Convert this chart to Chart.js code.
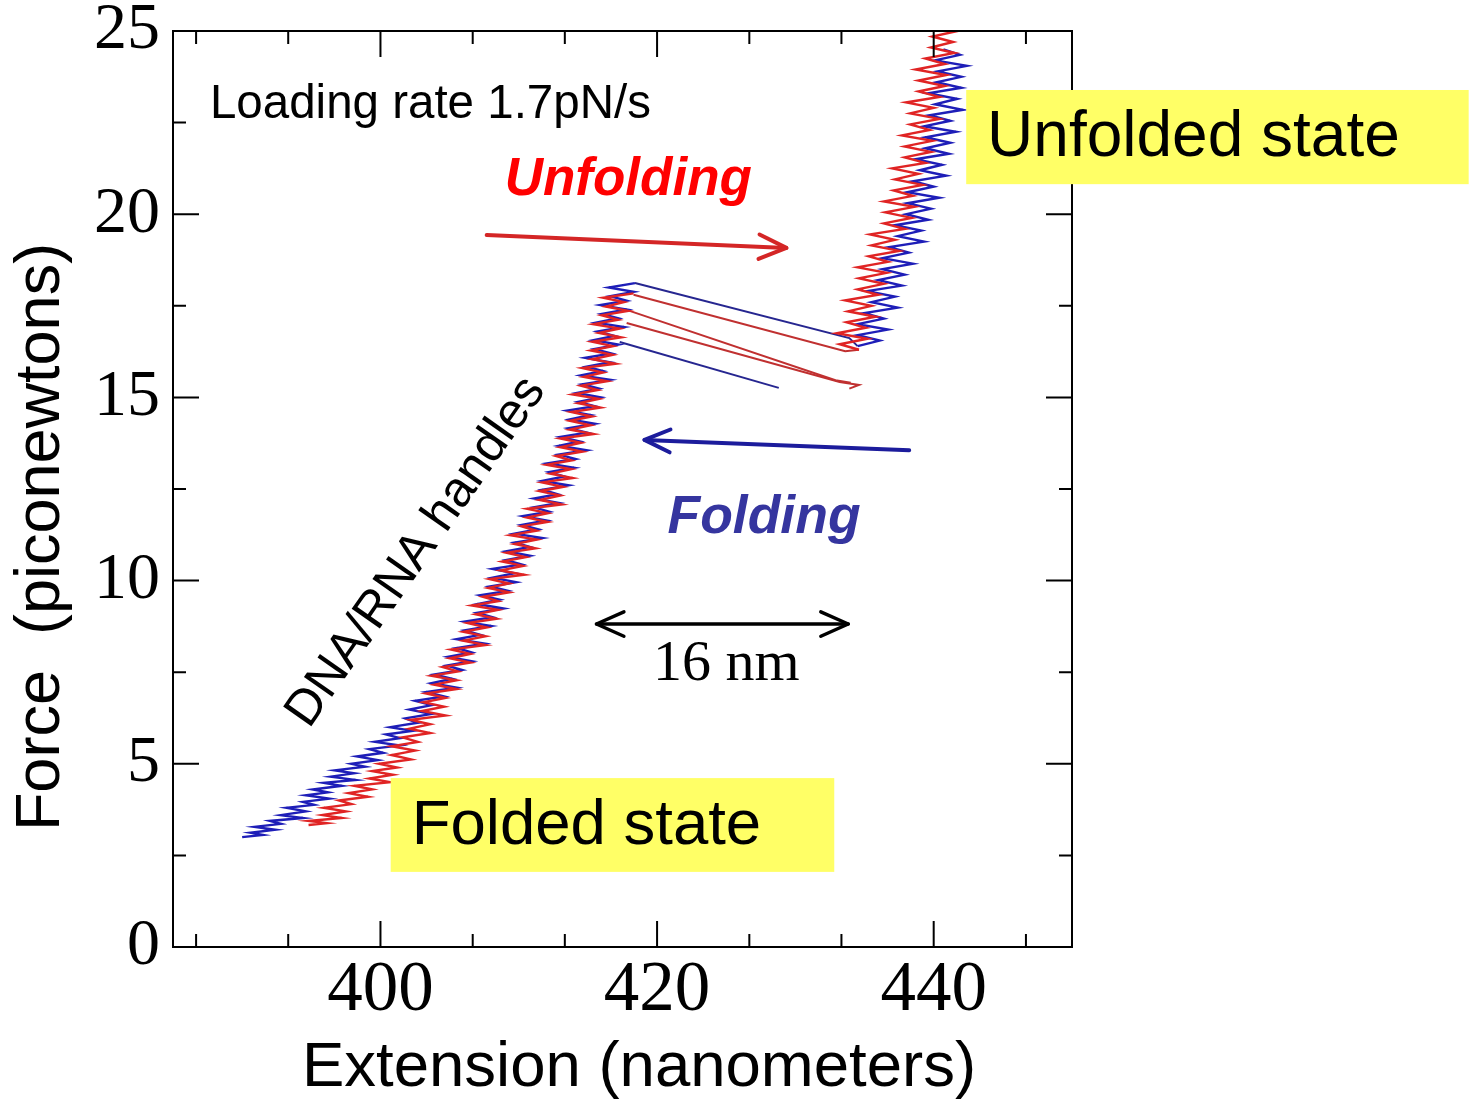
<!DOCTYPE html>
<html>
<head>
<meta charset="utf-8">
<script src="https://cdn.jsdelivr.net/npm/chart.js@4.4.1/dist/chart.umd.min.js"></script>
<style>
  html, body { margin: 0; padding: 0; background: #fff; }
  canvas { display: block; }
</style>
</head>
<body>
<canvas id="chart" width="1470" height="1103"></canvas>
<script>
// axis ticks
const xTicks = [400, 420, 440];
const xMinorTicks = [386.67, 393.33, 406.67, 413.33, 426.67, 433.33, 446.67];
const yTicks = [0, 5, 10, 15, 20, 25];
const yMinorTicks = [2.5, 7.5, 12.5, 17.5, 22.5];

// [extension nm, force pN]
const redHandle = [
  [394.8,3.33],[396.1,3.38],[394.8,3.44],[397.2,3.52],[395.8,3.60],[397.5,3.70],[395.9,3.80],[397.9,3.90],
  [397.0,4.00],[399.1,4.10],[397.7,4.20],[399.4,4.30],[398.1,4.40],[400.7,4.50],[399.2,4.60],[400.9,4.70],
  [399.4,4.80],[401.2,4.90],[399.9,5.00],[402.2,5.12],[400.8,5.24],[402.5,5.36],[400.8,5.48],[402.7,5.60],
  [401.6,5.72],[403.6,5.84],[402.1,5.96],[403.6,6.08],[402.2,6.20],[404.7,6.32],[403.0,6.44],[404.6,6.56],
  [403.1,6.68],[404.7,6.80],[403.3,6.92],[405.5,7.04],[403.9,7.16],[405.5,7.28],[403.7,7.40],[405.6,7.52],
  [404.5,7.64],[406.5,7.76],[405.0,7.88],[406.5,8.00],[405.1,8.12],[407.6,8.24],[406.0,8.36],[407.6,8.48],
  [406.0,8.60],[407.7,8.72],[406.3,8.84],[408.4,8.96],[406.9,9.08],[408.5,9.20],[406.6,9.32],[408.5,9.44],
  [407.4,9.56],[409.3,9.68],[407.8,9.80],[409.3,9.92],[407.9,10.04],[410.4,10.16],[408.7,10.28],[410.3,10.40],
  [408.8,10.52],[410.5,10.64],[409.1,10.76],[411.2,10.88],[409.7,11.00],[411.3,11.12],[409.4,11.24],[411.3,11.36],
  [410.2,11.48],[412.1,11.60],[410.6,11.72],[412.1,11.84],[410.6,11.96],[413.1,12.08],[411.5,12.20],[413.0,12.32],
  [411.5,12.44],[413.2,12.56],[411.7,12.68],[413.9,12.80],[412.3,12.92],[413.8,13.04],[412.0,13.16],[413.8,13.28],
  [412.7,13.40],[414.6,13.52],[413.0,13.64],[414.5,13.76],[413.0,13.88],[415.4,14.00],[413.7,14.12],[415.2,14.24],
  [413.7,14.36],[415.3,14.48],[413.8,14.60],[415.9,14.72],[414.3,14.84],[415.8,14.96],[413.9,15.08],[415.7,15.20],
  [414.5,15.32],[416.4,15.44],[414.7,15.56],[416.1,15.68],[414.6,15.80],[417.0,15.92],[415.3,16.04],[416.8,16.16],
  [415.2,16.28],[416.8,16.40],[415.3,16.52],[417.4,16.64],[415.8,16.76],[417.3,16.88],[415.4,17.00],[417.2,17.12],
  [416.0,17.24],[417.9,17.36],[416.3,17.48],[417.6,17.60],[416.1,17.72],[418.3,17.84]
];

const blueHandle = [
  [390.0,3.00],[391.5,3.06],[390.6,3.12],[392.4,3.20],[390.9,3.28],[392.8,3.36],[392.0,3.44],[394.4,3.52],
  [392.8,3.60],[394.6,3.70],[393.2,3.80],[395.2,3.88],[394.4,3.96],[396.3,4.05],[394.6,4.14],[396.2,4.22],
  [395.1,4.30],[397.2,4.40],[395.9,4.48],[398.2,4.56],[396.4,4.65],[398.1,4.74],[396.7,4.82],[398.9,4.92],
  [397.9,5.00],[399.8,5.10],[398.3,5.20],[400.2,5.30],[399.2,5.40],[401.4,5.50],[399.6,5.60],[401.4,5.70],
  [400.4,5.80],[402.3,5.90],[400.7,6.00],[402.7,6.12],[401.8,6.24],[403.7,6.36],[402.1,6.48],[403.7,6.60],
  [402.5,6.72],[404.6,6.84],[403.3,6.96],[405.5,7.08],[403.7,7.20],[405.2,7.32],[403.9,7.44],[405.9,7.56],
  [404.8,7.68],[406.6,7.80],[404.9,7.92],[406.6,8.04],[405.5,8.16],[407.5,8.28],[405.5,8.40],[407.2,8.52],
  [406.1,8.64],[408.0,8.76],[406.1,8.88],[408.1,9.00],[407.0,9.12],[408.9,9.24],[407.0,9.36],[408.6,9.48],
  [407.2,9.60],[409.2,9.72],[407.9,9.84],[409.8,9.96],[408.1,10.08],[409.7,10.20],[408.1,10.32],[410.2,10.44],
  [409.1,10.56],[410.8,10.68],[409.1,10.80],[410.8,10.92],[409.7,11.04],[411.7,11.16],[409.7,11.28],[411.4,11.40],
  [410.2,11.52],[412.0,11.64],[410.3,11.76],[412.2,11.88],[411.1,12.00],[412.9,12.12],[411.1,12.24],[412.8,12.36],
  [411.7,12.48],[413.6,12.60],[411.7,12.72],[413.3,12.84],[412.2,12.96],[414.0,13.08],[412.1,13.20],[414.1,13.32],
  [412.9,13.44],[414.9,13.56],[412.9,13.68],[414.4,13.80],[413.0,13.92],[414.9,14.04],[413.6,14.16],[415.5,14.28],
  [413.7,14.40],[415.2,14.52],[413.5,14.64],[415.5,14.76],[414.3,14.88],[415.9,15.00],[414.2,15.12],[415.8,15.24],
  [414.6,15.36],[416.6,15.48],[414.5,15.60],[416.1,15.72],[414.9,15.84],[416.6,15.96],[414.8,16.08],[416.7,16.20],
  [415.5,16.32],[417.2,16.44],[415.4,16.56],[416.9,16.68],[415.7,16.80],[417.6,16.92],[415.6,17.04],[417.2,17.16],
  [416.0,17.28],[417.8,17.40],[415.9,17.52],[417.8,17.64],[416.6,17.76],[418.3,17.88],[416.5,18.00],[418.4,18.12]
];

const redUnfolded = [
  [434.6,16.30],[433.2,16.45],[435.2,16.60],[433.0,16.75],[435.1,16.90],[433.7,17.05],[435.8,17.20],[433.8,17.35],
  [435.5,17.50],[433.6,17.65],[436.0,17.80],[434.5,17.95],[436.4,18.10],[434.6,18.25],[436.6,18.40],[434.5,18.55],
  [436.7,18.70],[435.3,18.85],[437.5,19.00],[435.5,19.15],[437.2,19.30],[435.4,19.45],[437.9,19.60],[436.4,19.75],
  [438.4,19.90],[436.5,20.05],[438.6,20.20],[436.4,20.35],[438.5,20.50],[437.1,20.65],[439.2,20.80],[437.2,20.95],
  [438.9,21.10],[437.0,21.25],[439.4,21.40],[437.9,21.55],[439.8,21.70],[437.9,21.85],[439.9,22.00],[437.7,22.15],
  [439.7,22.30],[438.3,22.45],[440.4,22.60],[438.3,22.75],[440.0,22.90],[438.0,23.05],[440.4,23.20],[438.9,23.35],
  [440.8,23.50],[438.9,23.65],[440.9,23.80],[438.7,23.95],[440.8,24.10],[439.4,24.25],[441.5,24.40],[439.8,24.55],
  [441.4,24.70],[439.9,24.85],[441.7,25.00],[440.3,25.15]
];

const blueUnfolded = [
  [434.5,16.40],[436.1,16.55],[434.5,16.70],[436.7,16.85],[434.5,17.00],[436.4,17.15],[435.0,17.30],[437.4,17.45],
  [435.5,17.60],[437.2,17.75],[435.2,17.90],[437.7,18.05],[436.0,18.20],[437.9,18.35],[436.3,18.50],[438.5,18.65],
  [436.3,18.80],[438.2,18.95],[436.8,19.10],[439.3,19.25],[437.4,19.40],[439.1,19.55],[437.2,19.70],[439.6,19.85],
  [438.0,20.00],[439.8,20.15],[438.1,20.30],[440.4,20.45],[438.1,20.60],[440.0,20.75],[438.5,20.90],[440.9,21.05],
  [439.0,21.20],[440.6,21.35],[438.7,21.50],[441.1,21.65],[439.4,21.80],[441.2,21.95],[439.4,22.10],[441.6,22.25],
  [439.3,22.40],[441.2,22.55],[439.7,22.70],[442.1,22.85],[440.1,23.00],[441.7,23.15],[439.6,23.30],[442.0,23.45],
  [440.2,23.60],[442.0,23.75],[440.3,23.90],[442.4,24.05],[440.1,24.20],[441.9,24.35],[440.7,24.50]
];

// jumps between the two branches
const blueJumpHigh = [[418.4,18.12],[433.9,16.62],[434.5,16.40]];
const redJumpHigh = [[418.3,17.80],[433.6,16.26],[434.6,16.30]];
const redJumpMid = [[417.8,17.39],[432.9,15.47],[434.0,15.40]];
const redJumpLow = [[417.8,17.03],[433.2,15.42],[434.6,15.34],[433.9,15.24]];
const blueJumpLow = [[417.3,16.51],[428.8,15.26]];

const RED = "#e02424";
const BLUE = "#1e1eb8";
const SANS = "'Liberation Sans', Arial, sans-serif";
const SERIF = "'Liberation Serif', 'Times New Roman', serif";

const trace = (points, color, width) => ({
  data: points.map(([x, y]) => ({ x, y })),
  showLine: true,
  borderColor: color,
  borderWidth: width,
  pointRadius: 0,
  fill: false,
  tension: 0,
});

// open V arrow head at (tx, ty), pointing away from (fx, fy)
const chevron = (ctx, tx, ty, fx, fy, len, spread) => {
  const a = Math.atan2(ty - fy, tx - fx);
  ctx.beginPath();
  ctx.moveTo(tx - len * Math.cos(a - spread), ty - len * Math.sin(a - spread));
  ctx.lineTo(tx, ty);
  ctx.lineTo(tx - len * Math.cos(a + spread), ty - len * Math.sin(a + spread));
  ctx.stroke();
};

const framePlugin = {
  id: "frame",
  afterDatasetsDraw(chart) {
    const { ctx, chartArea: a, scales } = chart;
    ctx.save();
    ctx.strokeStyle = "#000";
    ctx.lineWidth = 2;
    ctx.strokeRect(a.left, a.top, a.right - a.left, a.bottom - a.top);
    const xt = (v, len) => {
      const p = scales.x.getPixelForValue(v);
      ctx.beginPath();
      ctx.moveTo(p, a.bottom); ctx.lineTo(p, a.bottom - len);
      ctx.moveTo(p, a.top); ctx.lineTo(p, a.top + len);
      ctx.stroke();
    };
    const yt = (v, len) => {
      const p = scales.y.getPixelForValue(v);
      ctx.beginPath();
      ctx.moveTo(a.left, p); ctx.lineTo(a.left + len, p);
      ctx.moveTo(a.right, p); ctx.lineTo(a.right - len, p);
      ctx.stroke();
    };
    xTicks.forEach((v) => xt(v, 26));
    xMinorTicks.forEach((v) => xt(v, 13));
    yTicks.forEach((v) => yt(v, 26));
    yMinorTicks.forEach((v) => yt(v, 13));
    ctx.restore();
  },
};

const notesPlugin = {
  id: "notes",
  afterDraw(chart) {
    const { ctx, chartArea: a } = chart;
    const X = (v) => chart.scales.x.getPixelForValue(v);
    const Y = (v) => chart.scales.y.getPixelForValue(v);
    ctx.save();

    // yellow boxes
    ctx.fillStyle = "#ffff66";
    ctx.fillRect(X(400.74), Y(4.61), X(432.81) - X(400.74), Y(2.05) - Y(4.61));
    ctx.fillRect(X(442.35), Y(23.39), X(478.68) - X(442.35), Y(20.82) - Y(23.39));

    const text = (str, x, y, font, color, align) => {
      ctx.font = font;
      ctx.fillStyle = color;
      ctx.textAlign = align || "left";
      ctx.textBaseline = "middle";
      ctx.fillText(str, x, y);
    };
    text("Folded state", X(402.26), Y(3.30), `63.5px ${SANS}`, "#000");
    text("Unfolded state", X(443.86), Y(22.08), `64px ${SANS}`, "#000");
    text("Loading rate 1.7pN/s", X(387.67), Y(22.98), `47.5px ${SANS}`, "#000");
    text("Unfolding", X(408.98), Y(20.93), `italic bold 53px ${SANS}`, "#ff0000");
    text("Folding", X(420.75), Y(11.71), `italic bold 53.5px ${SANS}`, "#35359f");
    text("16 nm", X(425.01), Y(7.70), `58px ${SERIF}`, "#000", "center");

    ctx.save();
    ctx.translate(X(402.6), Y(10.78));
    ctx.rotate(-55 * Math.PI / 180);
    text("DNA/RNA handles", 0, 0, `50px ${SANS}`, "#000", "center");
    ctx.restore();

    // arrows
    ctx.lineCap = "round";
    ctx.lineJoin = "round";
    const arrow = (x1, y1, x2, y2, color, width, len, both) => {
      ctx.strokeStyle = color;
      ctx.lineWidth = width;
      ctx.beginPath();
      ctx.moveTo(x1, y1); ctx.lineTo(x2, y2);
      ctx.stroke();
      chevron(ctx, x2, y2, x1, y1, len, 0.42);
      if (both) chevron(ctx, x1, y1, x2, y2, len, 0.42);
    };
    arrow(X(407.68), Y(19.43), X(429.35), Y(19.08), "#d42626", 4, 30);
    arrow(X(438.23), Y(13.56), X(419.09), Y(13.84), "#1c1c9c", 4, 28);
    arrow(X(415.62), Y(8.815), X(433.82), Y(8.815), "#000", 3.5, 30, true);

    // axis titles
    ctx.save();
    ctx.translate(a.left - 131, 537);
    ctx.rotate(-Math.PI / 2);
    text("Force  (piconewtons)", 0, 0, `63px ${SANS}`, "#000", "center");
    ctx.restore();
    text("Extension (nanometers)", 639, 1068, `63.5px ${SANS}`, "#000", "center");

    ctx.restore();
  },
};

new Chart(document.getElementById("chart"), {
  type: "scatter",
  data: {
    datasets: [
      trace(redHandle, RED, 2.4),
      trace(blueHandle, BLUE, 2.4),
      trace(redUnfolded, RED, 2.4),
      trace(blueUnfolded, BLUE, 2.4),
      trace(blueJumpHigh, "#262690", 2),
      trace(redJumpHigh, "#c03030", 2),
      trace(redJumpMid, "#c03030", 2),
      trace(redJumpLow, "#c03030", 2),
      trace(blueJumpLow, "#262690", 2),
    ],
  },
  options: {
    responsive: false,
    animation: false,
    events: [],
    layout: { padding: { top: 31, right: 398, left: 0, bottom: 0 } },
    plugins: { legend: { display: false }, tooltip: { enabled: false } },
    scales: {
      x: {
        type: "linear",
        min: 385,
        max: 450,
        grid: { display: false, drawTicks: false },
        border: { display: false },
        afterBuildTicks: (s) => { s.ticks = xTicks.map((value) => ({ value })); },
        afterFit: (s) => { s.height = 156; s.paddingLeft = 0; s.paddingRight = 0; },
        ticks: {
          autoSkip: false,
          maxRotation: 0,
          padding: 9,
          color: "#000",
          font: { family: SERIF, size: 71, lineHeight: 1 },
        },
      },
      y: {
        type: "linear",
        min: 0,
        max: 25,
        grid: { display: false, drawTicks: false },
        border: { display: false },
        afterBuildTicks: (s) => { s.ticks = yTicks.map((value) => ({ value })); },
        afterFit: (s) => { s.width = 173; s.paddingTop = 0; s.paddingBottom = 0; },
        ticks: {
          autoSkip: false,
          padding: 13,
          color: "#000",
          font: { family: SERIF, size: 66, lineHeight: 0.9 },
        },
      },
    },
  },
  plugins: [framePlugin, notesPlugin],
});
</script>
</body>
</html>
